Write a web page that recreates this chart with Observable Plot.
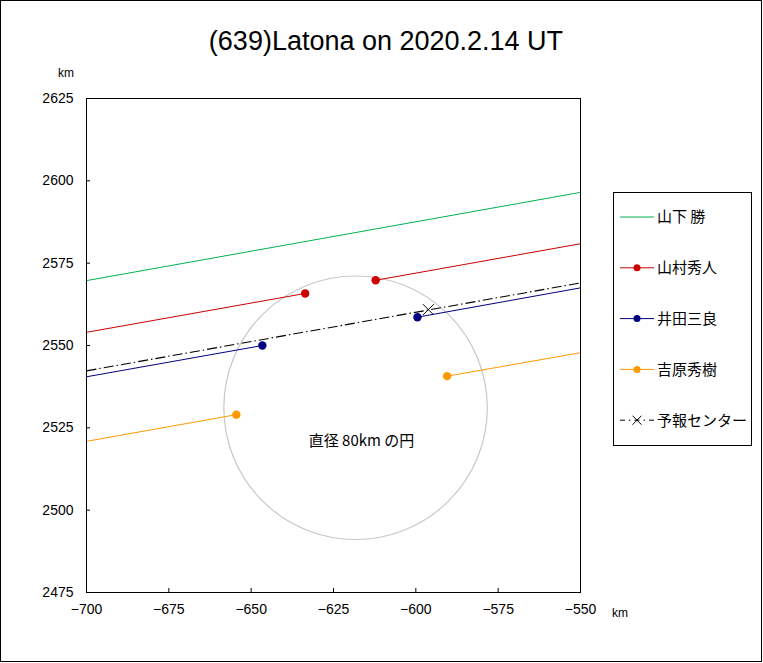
<!DOCTYPE html>
<html><head><meta charset="utf-8">
<script src="https://cdn.jsdelivr.net/npm/d3@7"></script>
<script src="https://cdn.jsdelivr.net/npm/@observablehq/plot@0.6"></script>
<style>body{margin:0;background:#fff} #chart{position:relative;width:763px;height:663px}</style>
</head><body><div id="chart"></div>
<script>
const title = "(639)Latona on 2020.2.14 UT";
const xTicks = [-700, -675, -650, -625, -600, -575, -550];
const yTicks = [2475, 2500, 2525, 2550, 2575, 2600, 2625];
const unitLabel = "km";
const observers = ["山下 勝", "山村秀人", "井田三良", "吉原秀樹", "予報センター"];
const colors = ["#00b050", "#cc0000", "#000080", "#ff9900", "#000000"];
// chord segments (observer index, start, end)
const segObserver = [0, 1, 1, 2, 2, 3, 3, 4];
const segX1 = [-700, -700, -612.2, -700, -599.5, -700, -590.5, -700];
const segY1 = [2569.7, 2554.0, 2569.8, 2540.5, 2558.6, 2520.9, 2540.7, 2542.3];
const segX2 = [-550, -633.6, -550, -646.6, -550, -654.5, -550, -550];
const segY2 = [2596.5, 2565.8, 2580.9, 2550.0, 2567.5, 2529.0, 2547.8, 2569.0];
// disappearance / reappearance points
const evObserver = [1, 1, 2, 2, 3, 3];
const evX = [-633.6, -612.2, -646.6, -599.5, -654.5, -590.5];
const evY = [2565.8, 2569.8, 2550.0, 2558.6, 2529.0, 2540.7];
// predicted centre
const predX = [-596.2];
const predY = [2560.9];
// reference circle
const circleX = [-618.3];
const circleY = [2531.1];
const circleDiameter = [80];
const circleLabel = ["直径 80km の円"];
const circleLabelX = [-616.5];
const circleLabelY = [2520.8];

const W = 763, H = 663, mL = 86, mR = 183, mT = 98, mB = 71;
const pw = W - mL - mR, ph = H - mT - mB;

const segs = segObserver.map((o, i) => ({o, x1: segX1[i], y1: segY1[i], x2: segX2[i], y2: segY2[i], c: colors[o]}));
const evs = evObserver.map((o, i) => ({o, x: evX[i], y: evY[i], c: colors[o]}));
const pred = predX.map((x, i) => ({x, y: predY[i]}));
const circ = circleX.map((x, i) => ({x, y: circleY[i], r: circleDiameter[i] / 2}));
const clab = circleLabel.map((t, i) => ({t, x: circleLabelX[i], y: circleLabelY[i]}));

const jp = "'Noto Sans CJK JP', sans-serif";
const plot = Plot.plot({
  width: W, height: H, marginLeft: mL, marginRight: mR, marginTop: mT, marginBottom: mB,
  style: {fontFamily: "'Liberation Sans', Arial, sans-serif", fontSize: "14px", color: "#000", background: "transparent", overflow: "visible"},
  x: {domain: [-700, -550]},
  y: {domain: [2475, 2625]},
  r: {type: "linear", domain: [0, 150], range: [0, pw]},
  color: {type: "identity"},
  marks: [
    Plot.dot(circ, {x: "x", y: "y", r: "r", stroke: "#c8c8c8", fill: "none", strokeWidth: 1.2}),
    Plot.text(clab, {x: "x", y: "y", text: "t", fontFamily: jp, fontSize: 15, fill: "#000"}),
    Plot.link(segs.filter(d => d.o < 4), {x1: "x1", y1: "y1", x2: "x2", y2: "y2", stroke: "c", strokeWidth: 1}),
    Plot.link(segs.filter(d => d.o === 4), {x1: "x1", y1: "y1", x2: "x2", y2: "y2", stroke: "#000", strokeWidth: 1.1, strokeDasharray: "10,3,1.5,3"}),
    Plot.dot(evs, {x: "x", y: "y", fill: "c", r: 4.2}),
    Plot.dot(pred, {x: "x", y: "y", symbol: "times", r: 5, stroke: "#000", strokeWidth: 1}),
    Plot.frame({stroke: "#000", strokeWidth: 1}),
    Plot.tickX(xTicks, {x: d => d, insetTop: ph - 4, stroke: "#000"}),
    Plot.tickY(yTicks, {y: d => d, insetRight: pw - 4, stroke: "#000"}),
    Plot.axisX({ticks: xTicks, tickSize: 0, tickPadding: 12, label: null, tickFormat: d3.format("d")}),
    Plot.axisY({ticks: yTicks, tickSize: 0, tickPadding: 13, label: null, tickFormat: d3.format("d")})
  ]
});
document.getElementById("chart").appendChild(plot);

const svg = d3.select(plot);
// outer border
svg.append("rect").attr("x", 0.5).attr("y", 0.5).attr("width", 761).attr("height", 661)
  .attr("fill", "none").attr("stroke", "#000");
// title
svg.append("text").attr("x", 386).attr("y", 50).attr("text-anchor", "middle")
  .style("font-size", "27px").style("font-family", "'Liberation Sans', Arial, sans-serif").text(title);
// unit labels
svg.append("text").attr("x", 66).attr("y", 77).attr("text-anchor", "middle").style("font-size", "12px").text(unitLabel);
svg.append("text").attr("x", 620).attr("y", 617).attr("text-anchor", "middle").style("font-size", "12px").text(unitLabel);
// legend
const lg = svg.append("g").attr("text-anchor", "start");
lg.append("rect").attr("x", 613.5).attr("y", 192.5).attr("width", 138).attr("height", 253)
  .attr("fill", "#fff").attr("stroke", "#000");
const rowY = i => 217 + i * 50.8;
observers.forEach((name, i) => {
  const y = rowY(i);
  const g = lg.append("g");
  const line = g.append("line").attr("x1", 620).attr("x2", 654).attr("y1", y).attr("y2", y)
    .attr("stroke", colors[i]).attr("stroke-width", 1);
  if (i === 4) {
    line.attr("stroke-dasharray", "5,4,1.5,4");
    g.append("path").attr("d", `M${637-4.5},${y-4.5}L${637+4.5},${y+4.5}M${637-4.5},${y+4.5}L${637+4.5},${y-4.5}`)
      .attr("stroke", "#000").attr("fill", "none");
  } else if (i > 0) {
    g.append("circle").attr("cx", 637).attr("cy", y).attr("r", 3.5).attr("fill", colors[i]);
  }
  g.append("text").attr("x", 657).attr("y", y).attr("dy", "0.36em").attr("text-anchor", "start")
    .style("text-anchor", "start").style("font-family", jp).style("font-size", "15px").text(name);
});
</script>
</body></html>
